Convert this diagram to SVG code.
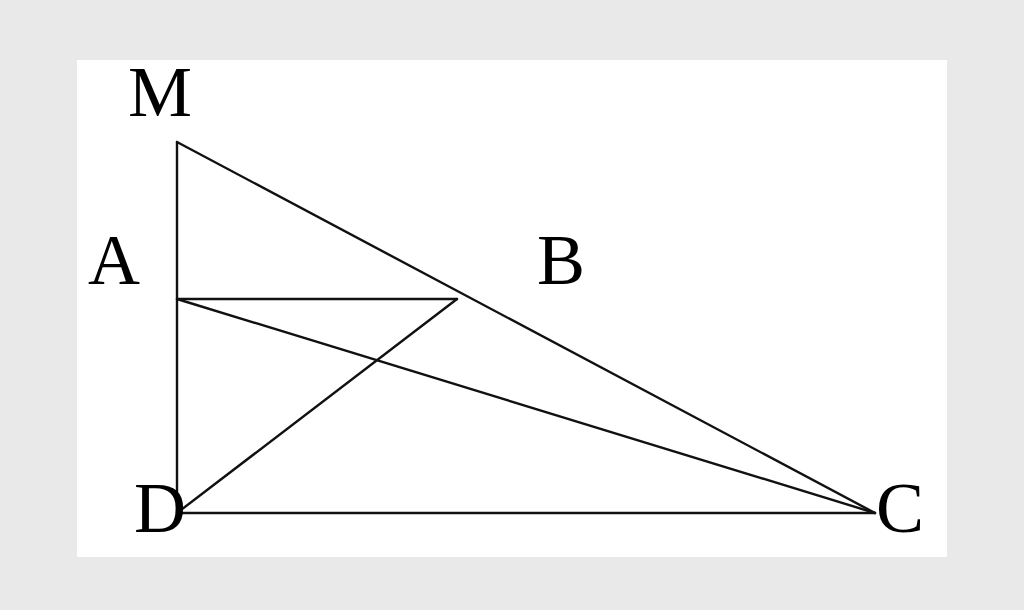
<svg xmlns="http://www.w3.org/2000/svg" width="1024" height="610" viewBox="0 0 1024 610">
<style>
.edge{stroke:#111;stroke-width:2.4;fill:none;stroke-linecap:round}
.lbl{font-family:"Liberation Serif","Times New Roman",serif;font-size:72px;fill:#000}
</style>
<rect x="0" y="0" width="1024" height="610" fill="#e9e9e9"/>
<rect x="77" y="60" width="870" height="497" fill="#ffffff"/>
<g id="connectors">
<line class="edge" x1="177" y1="142" x2="177" y2="513"/>
<line class="edge" x1="177" y1="513" x2="875" y2="513"/>
<line class="edge" x1="177" y1="142" x2="875" y2="513"/>
<line class="edge" x1="177" y1="299" x2="457" y2="299"/>
<line class="edge" x1="177" y1="299" x2="875" y2="513"/>
<line class="edge" x1="177" y1="513" x2="457" y2="299"/>
</g>
<g id="M"><text class="lbl" x="128" y="116">M</text></g>
<g id="A"><text class="lbl" x="88" y="284">A</text></g>
<g id="B"><text class="lbl" x="537" y="284">B</text></g>
<g id="D"><text class="lbl" x="134" y="532">D</text></g>
<g id="C"><text class="lbl" x="876" y="532">C</text></g>
</svg>
